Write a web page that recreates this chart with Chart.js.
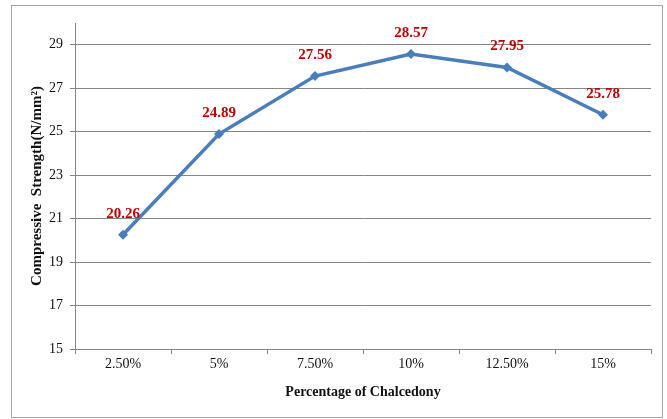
<!DOCTYPE html>
<html>
<head>
<meta charset="utf-8">
<script src="https://cdn.jsdelivr.net/npm/chart.js@4"></script>
<style>
  html, body { margin: 0; padding: 0; background: #fff; }
  #wrap { width: 667px; height: 419px; }
</style>
</head>
<body>
<div id="wrap"><canvas id="js-line-chart" width="667" height="419"></canvas></div>
<script>
// Chart data
const categories = ['2.50%', '5%', '7.50%', '10%', '12.50%', '15%'];
const strength = [20.26, 24.89, 27.56, 28.57, 27.95, 25.78];
const yTicks = [15, 17, 19, 21, 23, 25, 27, 29];

const serif = "'Liberation Serif', 'Times New Roman', serif";

// Outer frame round the whole chart
const framePlugin = {
  id: 'frame',
  beforeDraw(chart) {
    const ctx = chart.ctx;
    ctx.save();
    ctx.fillStyle = '#fff';
    ctx.fillRect(0, 0, chart.width, chart.height);
    ctx.strokeStyle = '#a6a6a6';
    ctx.lineWidth = 1;
    ctx.strokeRect(11.5, 5.5, 651, 412);
    ctx.restore();
  }
};

// Red value labels above each point
const valueLabels = {
  id: 'valueLabels',
  afterDatasetsDraw(chart) {
    const ctx = chart.ctx;
    const meta = chart.getDatasetMeta(0);
    ctx.save();
    ctx.fillStyle = '#c00000';
    ctx.font = 'bold 15px ' + serif;
    ctx.textAlign = 'center';
    ctx.textBaseline = 'middle';
    meta.data.forEach((pt, i) => {
      ctx.fillText(strength[i].toFixed(2), pt.x, pt.y - 21);
    });
    ctx.restore();
  }
};

const lineChartContext = document.getElementById('js-line-chart').getContext('2d');

const newLineChart = new Chart(lineChartContext, {
  type: 'line',
  data: {
    labels: categories,
    datasets: [
      {
        label: 'Compressive Strength',
        data: strength,
        borderColor: '#4a7ebb',
        backgroundColor: '#4a7ebb',
        borderWidth: 3.5,
        pointStyle: 'rectRot',
        pointRadius: 5,
        pointBorderWidth: 0,
        tension: 0,
      },
    ],
  },
  options: {
    responsive: false,
    animation: false,
    layout: { padding: { top: 23, right: 16, left: 0, bottom: 0 } },
    plugins: {
      legend: { display: false },
      tooltip: { enabled: false },
    },
    scales: {
      x: {
        offset: true,
        grid: {
          offset: true,
          drawOnChartArea: false,
          color: '#868686',
          tickLength: 5,
        },
        border: { color: '#868686', width: 1 },
        ticks: {
          color: '#111',
          font: { family: serif, size: 14 },
          padding: 2,
          maxRotation: 0,
        },
        title: {
          display: true,
          text: 'Percentage of Chalcedony',
          color: '#111',
          font: { family: serif, size: 14, weight: 'bold' },
          padding: { top: 0, bottom: 18 },
        },
        afterFit(scale) { scale.height = 70; },
      },
      y: {
        min: 15,
        max: 30,
        grid: {
          color: '#868686',
          tickLength: 5,
        },
        border: { color: '#868686', width: 1 },
        ticks: {
          color: '#111',
          font: { family: serif, size: 14 },
          padding: 7,
        },
        afterBuildTicks(axis) {
          axis.ticks = yTicks.map(v => ({ value: v }));
        },
        title: {
          display: true,
          text: 'Compressive  Strength(N/mm²)',
          color: '#111',
          font: { family: serif, size: 15, weight: 'bold' },
          padding: { top: 28, bottom: 0 },
        },
        afterFit(scale) { scale.width = 75; },
      },
    },
  },
  plugins: [framePlugin, valueLabels],
});
</script>
</body>
</html>
